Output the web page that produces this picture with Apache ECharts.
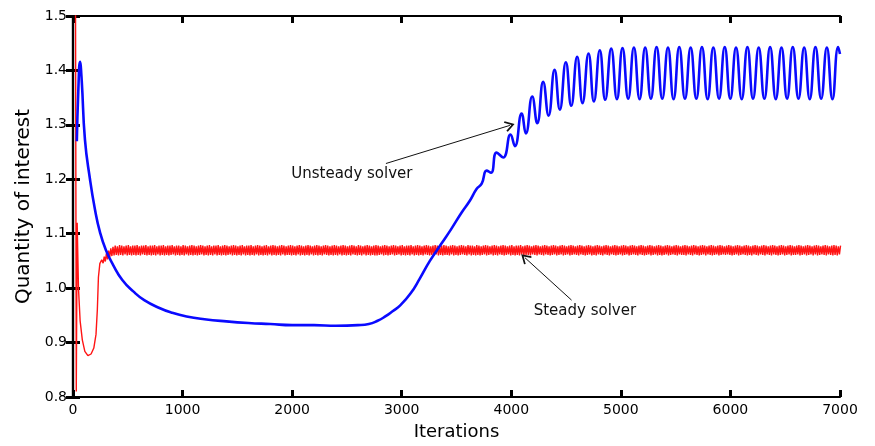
<!DOCTYPE html>
<html>
<head>
<meta charset="utf-8">
<title>Quantity of interest vs iterations</title>
<script src="https://cdn.jsdelivr.net/npm/echarts@6/dist/echarts.min.js"></script>
<style>
  html, body { margin: 0; padding: 0; background: #fff; }
  #chart { width: 875px; height: 446px; }
</style>
</head>
<body>
<div id="chart"></div>
<script>
// Axis ticks
const xTicks = [0, 1000, 2000, 3000, 4000, 5000, 6000, 7000];
const yTicks = [0.8, 0.9, 1.0, 1.1, 1.2, 1.3, 1.4, 1.5];

// Unsteady solver: iteration / value pairs (extrema of the late oscillation included)
const unsteadyIter = [
  35, 48, 64, 80, 109, 155, 200, 246, 300, 368, 450, 550, 650, 794, 900, 1037,
  1200, 1400, 1600, 1800, 2000, 2200, 2400, 2600, 2700, 2780, 2850, 2920, 2984,
  3080, 3166, 3257, 3363, 3450, 3547, 3620, 3683, 3730, 3775, 3815, 3866, 3926,
  3993, 4033, 4094, 4133, 4191, 4237, 4291, 4340, 4395, 4443, 4498, 4547, 4601,
  4650, 4705, 4754, 4808, 4857, 4912, 4964, 5015, 5067, 5119, 5171, 5222, 5274,
  5326, 5378, 5430, 5481, 5533, 5585, 5637, 5689, 5740, 5792, 5844, 5896, 5948,
  5999, 6051, 6103, 6155, 6206, 6258, 6310, 6362, 6414, 6466, 6517, 6569, 6621,
  6673, 6724, 6776, 6828, 6880, 6931, 6983, 7000
];
const unsteadyValue = [
  1.27, 1.36, 1.416, 1.38, 1.273, 1.2, 1.145, 1.103, 1.07, 1.042, 1.015, 0.994, 0.978, 0.963, 0.955, 0.948,
  0.943, 0.939, 0.936, 0.934, 0.932, 0.932, 0.931, 0.932, 0.934, 0.94, 0.948, 0.958, 0.968,
  0.99, 1.018, 1.05, 1.082, 1.108, 1.139, 1.16, 1.182, 1.192, 1.216, 1.212, 1.249, 1.240,
  1.282, 1.261, 1.321, 1.284, 1.352, 1.303, 1.379, 1.317, 1.401, 1.328, 1.415, 1.335, 1.425,
  1.340, 1.431, 1.343, 1.437, 1.346, 1.440, 1.347, 1.441, 1.348, 1.442, 1.347, 1.442, 1.348,
  1.443, 1.348, 1.442, 1.347, 1.443, 1.348, 1.442, 1.348, 1.443, 1.347, 1.442, 1.348, 1.443,
  1.348, 1.442, 1.347, 1.443, 1.348, 1.442, 1.348, 1.443, 1.347, 1.442, 1.348, 1.443, 1.348,
  1.442, 1.347, 1.443, 1.348, 1.442, 1.347, 1.443, 1.430
];

// Steady solver: start-up transient
const steadyStartIter = [22, 30, 38, 50, 65, 85, 108, 136, 165, 190, 210, 222, 232, 245, 262, 275,
  285, 295, 305, 315, 325, 335, 345, 355, 365];
const steadyStartValue = [1.62, 0.81, 1.12, 1.0, 0.94, 0.905, 0.884, 0.876, 0.879, 0.89, 0.915, 0.96, 1.02, 1.045, 1.052, 1.046,
  1.058, 1.049, 1.064, 1.053, 1.069, 1.057, 1.073, 1.059, 1.076];

// Steady solver: sampled every 10 iterations from iteration 375 on
const steadyFirstIter = 375;
const steadyIterStep = 10;
const steadyValue = [
  1.060,1.078,1.061,1.077,1.060,1.079,1.061,1.078,1.060,1.077,1.062,1.078,1.060,1.079,1.061,1.077,1.060,1.078,1.061,1.078,
  1.060,1.079,1.061,1.077,1.060,1.078,1.062,1.078,1.061,1.079,1.060,1.077,1.061,1.078,1.060,1.078,1.061,1.079,1.060,1.077,
  1.062,1.078,1.060,1.078,1.061,1.079,1.060,1.077,1.061,1.078,1.060,1.078,1.061,1.079,1.062,1.077,1.060,1.078,1.061,1.078,
  1.060,1.077,1.061,1.079,1.060,1.078,1.062,1.077,1.060,1.078,1.061,1.079,1.060,1.078,1.061,1.077,1.060,1.078,1.061,1.079,
  1.062,1.078,1.060,1.077,1.061,1.078,1.060,1.079,1.061,1.077,1.060,1.078,1.062,1.078,1.060,1.079,1.061,1.077,1.060,1.078,
  1.061,1.079,1.060,1.078,1.061,1.077,1.062,1.078,1.060,1.079,1.061,1.078,1.060,1.077,1.061,1.078,1.060,1.079,1.062,1.077,
  1.060,1.078,1.061,1.078,1.060,1.079,1.061,1.077,1.060,1.078,1.062,1.079,1.060,1.078,1.061,1.077,1.060,1.078,1.061,1.079,
  1.060,1.077,1.062,1.078,1.060,1.079,1.061,1.078,1.060,1.077,1.061,1.078,1.060,1.079,1.062,1.078,1.060,1.077,1.061,1.078,
  1.061,1.079,1.060,1.078,1.061,1.077,1.060,1.078,1.062,1.079,1.060,1.078,1.061,1.077,1.060,1.078,1.061,1.079,1.060,1.078,
  1.062,1.077,1.060,1.078,1.061,1.079,1.060,1.078,1.061,1.077,1.060,1.078,1.062,1.079,1.061,1.078,1.060,1.077,1.061,1.078,
  1.060,1.079,1.061,1.078,1.060,1.077,1.062,1.078,1.060,1.079,1.061,1.078,1.060,1.077,1.061,1.078,1.060,1.079,1.062,1.078,
  1.061,1.077,1.060,1.079,1.061,1.078,1.060,1.077,1.062,1.078,1.060,1.079,1.061,1.078,1.060,1.077,1.061,1.078,1.060,1.079,
  1.060,1.078,1.061,1.077,1.062,1.078,1.060,1.079,1.061,1.078,1.060,1.077,1.061,1.078,1.062,1.079,1.060,1.078,1.061,1.077,
  1.062,1.078,1.060,1.079,1.061,1.077,1.060,1.078,1.061,1.078,1.060,1.079,1.062,1.077,1.060,1.078,1.061,1.079,1.060,1.078,
  1.061,1.077,1.060,1.078,1.062,1.079,1.061,1.078,1.060,1.077,1.061,1.078,1.060,1.079,1.062,1.078,1.060,1.077,1.061,1.078,
  1.060,1.079,1.061,1.078,1.061,1.077,1.060,1.078,1.062,1.079,1.060,1.078,1.061,1.077,1.060,1.078,1.061,1.079,1.062,1.078,
  1.061,1.077,1.060,1.079,1.062,1.078,1.060,1.078,1.061,1.077,1.060,1.079,1.061,1.078,1.060,1.077,1.061,1.078,1.062,1.079,
  1.060,1.078,1.061,1.077,1.062,1.078,1.060,1.079,1.061,1.078,1.060,1.077,1.062,1.078,1.061,1.079,1.060,1.078,1.061,1.077,
  1.062,1.078,1.060,1.079,1.061,1.077,1.060,1.078,1.061,1.078,1.060,1.079,1.062,1.077,1.060,1.078,1.061,1.079,1.061,1.078,
  1.060,1.077,1.062,1.078,1.061,1.079,1.060,1.078,1.062,1.077,1.061,1.078,1.060,1.079,1.062,1.078,1.061,1.077,1.060,1.078,
  1.061,1.079,1.062,1.078,1.060,1.077,1.061,1.078,1.062,1.079,1.060,1.078,1.061,1.077,1.062,1.078,1.060,1.079,1.061,1.078,
  1.062,1.077,1.061,1.078,1.060,1.079,1.062,1.078,1.061,1.077,1.060,1.078,1.061,1.079,1.062,1.078,1.060,1.077,1.061,1.078,
  1.060,1.079,1.062,1.078,1.061,1.077,1.060,1.078,1.062,1.079,1.061,1.078,1.060,1.077,1.062,1.078,1.061,1.079,1.060,1.078,
  1.061,1.077,1.062,1.078,1.060,1.079,1.061,1.078,1.062,1.077,1.060,1.078,1.061,1.079,1.062,1.078,1.061,1.077,1.060,1.078,
  1.062,1.079,1.061,1.078,1.060,1.077,1.061,1.078,1.062,1.079,1.060,1.078,1.061,1.077,1.062,1.078,1.060,1.079,1.061,1.078,
  1.060,1.077,1.061,1.078,1.062,1.079,1.060,1.078,1.061,1.077,1.062,1.078,1.061,1.079,1.060,1.078,1.062,1.077,1.061,1.078,
  1.061,1.079,1.060,1.078,1.062,1.077,1.061,1.078,1.060,1.079,1.062,1.078,1.061,1.077,1.060,1.078,1.061,1.079,1.062,1.078,
  1.060,1.077,1.062,1.078,1.061,1.079,1.060,1.078,1.061,1.077,1.062,1.078,1.060,1.079,1.061,1.078,1.062,1.077,1.061,1.078,
  1.062,1.079,1.061,1.078,1.060,1.077,1.061,1.078,1.062,1.079,1.060,1.078,1.061,1.077,1.062,1.078,1.061,1.079,1.060,1.078,
  1.061,1.077,1.060,1.078,1.062,1.079,1.061,1.078,1.060,1.077,1.062,1.078,1.061,1.079,1.060,1.078,1.062,1.077,1.061,1.078,
  1.060,1.079,1.062,1.078,1.061,1.077,1.060,1.078,1.061,1.079,1.062,1.078,1.060,1.077,1.061,1.078,1.062,1.079,1.060,1.078,
  1.061,1.077,1.061,1.078,1.062,1.079,1.060,1.078,1.061,1.077,1.062,1.078,1.060,1.079,1.061,1.078,1.062,1.077,1.060,1.078,
  1.062,1.079,1.060,1.078,1.061,1.077,1.062,1.078,1.061,1.079,1.060,1.078,1.062,1.077,1.061,1.078,1.060,1.079,1.061,1.078,
  1.060,1.077,1.062,1.078
];

// Annotation anchors in data coordinates: [iteration, value]
const unsteadyLabelAt = [2545, 1.209];
const unsteadyArrowFrom = [2856, 1.229];
const unsteadyArrowTo = [3987, 1.299];
const steadyLabelAt = [4672, 0.957];
const steadyArrowFrom = [4550, 0.978];
const steadyArrowTo = [4124, 1.056];

const FONT = 'DejaVu Sans';

function pairs(xs, ys) {
  return xs.map((x, i) => [x, ys[i]]);
}
const unsteadyData = pairs(unsteadyIter, unsteadyValue);
const steadyData = pairs(steadyStartIter, steadyStartValue)
  .concat(steadyValue.map((v, i) => [steadyFirstIter + i * steadyIterStep, v]));

// thin open chevron used as arrow head
const chevron = 'path://M5,0 L10,8 L8.8,9 L5,3 L1.2,9 L0,8 Z';

const tickLine = { inside: true, length: 7, lineStyle: { color: '#000', width: 3 } };
const frameLine = { show: true, lineStyle: { color: '#000', width: 2.2 } };

function arrow(from, to) {
  return {
    silent: true,
    symbol: ['none', chevron],
    symbolSize: 11,
    symbolKeepAspect: true,
    label: { show: false },
    lineStyle: { color: '#111', width: 1, type: 'solid', opacity: 1 },
    data: [[{ coord: from }, { coord: to }]]
  };
}
function note(text, at) {
  return {
    silent: true,
    symbol: 'rect', symbolSize: 1,
    itemStyle: { color: 'rgba(0,0,0,0)' },
    label: { show: true, position: 'inside', color: '#111', fontSize: 15, fontFamily: FONT,
      formatter: text },
    data: [{ coord: at }]
  };
}

const chart = echarts.init(document.getElementById('chart'), null, { renderer: 'canvas' });
chart.setOption({
  animation: false,
  backgroundColor: '#fff',
  textStyle: { fontFamily: FONT },
  grid: { left: 73, right: 35, top: 16, bottom: 46, containLabel: false },
  xAxis: [
    {
      type: 'value', min: xTicks[0], max: xTicks[xTicks.length - 1], interval: 1000,
      position: 'bottom',
      axisLine: frameLine, axisTick: tickLine, splitLine: { show: false },
      axisLabel: { color: '#000', fontSize: 14, margin: 6, fontFamily: FONT,
        formatter: v => String(v) },
      name: 'Iterations', nameLocation: 'middle', nameGap: 26,
      nameTextStyle: { color: '#000', fontSize: 18, fontFamily: FONT }
    },
    {
      type: 'value', min: xTicks[0], max: xTicks[xTicks.length - 1], interval: 1000,
      position: 'top',
      axisLine: frameLine, axisTick: tickLine, splitLine: { show: false },
      axisLabel: { show: false }
    }
  ],
  yAxis: [
    {
      type: 'value', min: yTicks[0], max: yTicks[yTicks.length - 1], interval: 0.1,
      position: 'left',
      axisLine: frameLine, axisTick: tickLine, splitLine: { show: false },
      axisLabel: { color: '#000', fontSize: 14, margin: 6, fontFamily: FONT,
        formatter: v => v.toFixed(1) },
      name: 'Quantity of interest', nameLocation: 'middle', nameGap: 35,
      nameTextStyle: { color: '#000', fontSize: 20, fontFamily: FONT }
    },
    {
      type: 'value', min: yTicks[0], max: yTicks[yTicks.length - 1], interval: 0.1,
      position: 'right',
      axisLine: frameLine, axisTick: tickLine, splitLine: { show: false },
      axisLabel: { show: false }
    }
  ],
  series: [
    {
      name: 'Steady solver',
      type: 'line',
      data: steadyData,
      showSymbol: false,
      clip: true,
      lineStyle: { color: '#ff1414', width: 1.4 },
      z: 2,
      markLine: arrow(steadyArrowFrom, steadyArrowTo),
      markPoint: note('Steady solver', steadyLabelAt)
    },
    {
      name: 'Unsteady solver',
      type: 'line',
      data: unsteadyData,
      showSymbol: false,
      smooth: 0.5,
      clip: true,
      lineStyle: { color: '#0a0aff', width: 2.6 },
      z: 3,
      markLine: arrow(unsteadyArrowFrom, unsteadyArrowTo),
      markPoint: note('Unsteady solver', unsteadyLabelAt)
    }
  ]
});
</script>
</body>
</html>
